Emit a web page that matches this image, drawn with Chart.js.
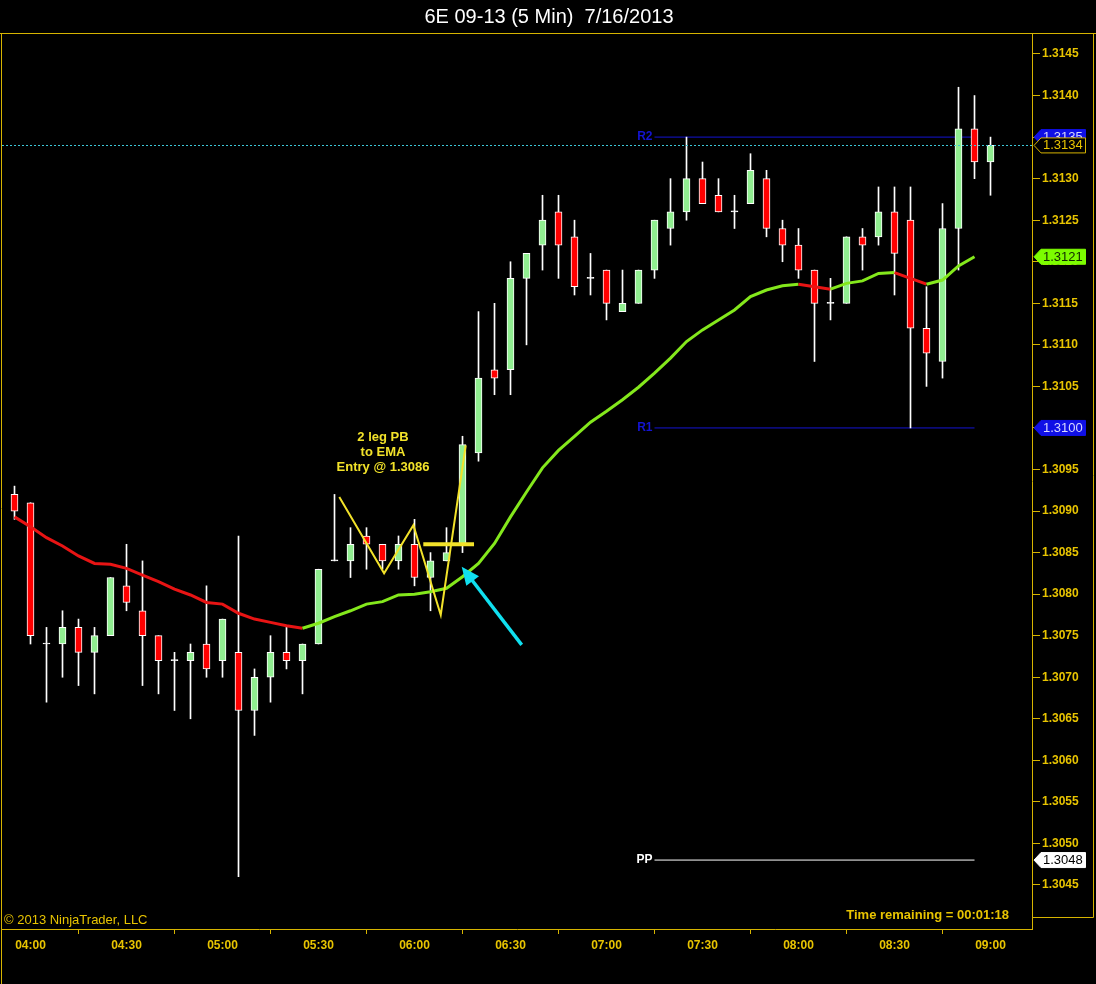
<!DOCTYPE html>
<html>
<head>
<meta charset="utf-8">
<title>6E 09-13 (5 Min) 7/16/2013</title>
<script src="https://cdn.jsdelivr.net/npm/chart.js@4.4.0/dist/chart.umd.min.js"></script>
<style>
  html, body { margin: 0; padding: 0; background: #000; }
  #wrap { width: 1096px; height: 984px; }
  canvas { background: #000; }
</style>
</head>
<body>
<div id="wrap"><canvas id="myChart" width="1096" height="984"></canvas></div>
<script>
// 5 min bars, 7/16/2013
var times = ['03:55','04:00','04:05','04:10','04:15','04:20','04:25','04:30','04:35','04:40',
             '04:45','04:50','04:55','05:00','05:05','05:10','05:15','05:20','05:25','05:30',
             '05:35','05:40','05:45','05:50','05:55','06:00','06:05','06:10','06:15','06:20',
             '06:25','06:30','06:35','06:40','06:45','06:50','06:55','07:00','07:05','07:10',
             '07:15','07:20','07:25','07:30','07:35','07:40','07:45','07:50','07:55','08:00',
             '08:05','08:10','08:15','08:20','08:25','08:30','08:35','08:40','08:45','08:50',
             '08:55','09:00'];

var opens = [1.3092,1.3091,1.3074,1.3074,1.3076,1.3073,1.3075,1.3081,1.3078,1.3075,
             1.3072,1.3072,1.3074,1.3072,1.3073,1.3066,1.3070,1.3073,1.3072,1.3074,
             1.3084,1.3084,1.3087,1.3086,1.3084,1.3086,1.3082,1.3084,1.3086,1.3097,
             1.3107,1.3107,1.3118,1.3122,1.3126,1.3123,1.3118,1.3119,1.3114,1.3115,
             1.3119,1.3124,1.3126,1.3130,1.3128,1.3126,1.3127,1.3130,1.3124,1.3122,
             1.3119,1.3115,1.3115,1.3123,1.3123,1.3126,1.3125,1.3112,1.3108,1.3124,
             1.3136,1.3132];
var highs = [1.3093,1.3091,1.3076,1.3078,1.3077,1.3076,1.3082,1.3086,1.3084,1.3075,
             1.3073,1.3074,1.3081,1.3077,1.3087,1.3071,1.3075,1.3076,1.3074,1.3083,
             1.3092,1.3088,1.3088,1.3086,1.3087,1.3089,1.3085,1.3088,1.3099,1.3114,
             1.3115,1.3120,1.3121,1.3128,1.3128,1.3125,1.3121,1.3119,1.3119,1.3119,
             1.3125,1.3130,1.3135,1.3132,1.3130,1.3128,1.3133,1.3131,1.3125,1.3124,
             1.3119,1.3118,1.3123,1.3124,1.3129,1.3129,1.3129,1.3117,1.3127,1.3141,
             1.3140,1.3135];
var lows = [1.3089,1.3074,1.3067,1.3070,1.3069,1.3068,1.3075,1.3078,1.3069,1.3068,
            1.3066,1.3065,1.3070,1.3070,1.3046,1.3063,1.3067,1.3071,1.3068,1.3074,
            1.3084,1.3082,1.3083,1.3083,1.3083,1.3081,1.3078,1.3084,1.3085,1.3096,
            1.3104,1.3104,1.3110,1.3119,1.3118,1.3116,1.3116,1.3113,1.3114,1.3115,
            1.3118,1.3122,1.3125,1.3127,1.3126,1.3124,1.3127,1.3123,1.3120,1.3118,
            1.3108,1.3113,1.3115,1.3119,1.3122,1.3116,1.3100,1.3105,1.3106,1.3119,
            1.3130,1.3128];
var closes = [1.3090,1.3075,1.3074,1.3076,1.3073,1.3075,1.3082,1.3079,1.3075,1.3072,
              1.3072,1.3073,1.3071,1.3077,1.3066,1.3070,1.3073,1.3072,1.3074,1.3083,
              1.3084,1.3086,1.3086,1.3084,1.3086,1.3082,1.3084,1.3085,1.3098,1.3106,
              1.3106,1.3118,1.3121,1.3125,1.3122,1.3117,1.3118,1.3115,1.3115,1.3119,
              1.3125,1.3126,1.3130,1.3127,1.3126,1.3126,1.3131,1.3124,1.3122,1.3119,
              1.3115,1.3115,1.3123,1.3122,1.3126,1.3121,1.3112,1.3109,1.3124,1.3136,
              1.3132,1.3134];
// EMA (last bar not plotted yet)
var ema = [1.30893,1.30881,1.30868,1.30858,1.30846,1.30837,1.30836,1.30831,1.30823,1.30815,
           1.30806,1.30799,1.30790,1.30788,1.30777,1.30770,1.30766,1.30762,1.30759,1.30765,
           1.30773,1.30780,1.30788,1.30791,1.30799,1.30800,1.30803,1.30807,1.30821,1.30837,
           1.30861,1.30893,1.30923,1.30952,1.30973,1.30990,1.31007,1.31020,1.31034,1.31049,
           1.31066,1.31084,1.31104,1.31118,1.31130,1.31142,1.31158,1.31166,1.31171,1.31173,
           1.31170,1.31167,1.31174,1.31177,1.31186,1.31187,1.31180,1.31173,1.31178,1.31195,
           1.31206];

var xTickLabels = ['04:00','04:30','05:00','05:30','06:00','06:30','07:00','07:30','08:00','08:30','09:00'];
var yTicks = [1.3045,1.3050,1.3055,1.3060,1.3065,1.3070,1.3075,1.3080,1.3085,1.3090,1.3095,
              1.3100,1.3105,1.3110,1.3115,1.3120,1.3125,1.3130,1.3135,1.3140,1.3145];

// pivots
var pivotNames = ['R2','R1','PP'];
var pivotValues = [1.3135,1.3100,1.3048];
var pivotFrom = '07:15', pivotTo = '08:55';

// hand drawn notes (bar index, price)
var legX = [20.3, 23.1, 24.93, 26.64, 28.2];
var legY = [1.30917, 1.30825, 1.30883, 1.30775, 1.30979];
var entryPrice = 1.3086, entryFrom = 25.55, entryTo = 28.72;
var arrowFrom = [31.7, 1.30739], arrowTo = [27.95, 1.30833];
var noteText = ['2 leg PB', 'to EMA', 'Entry @ 1.3086'];
var notePos = [23.03, 1.30988];

var GOLD = '#e8c400', LINE = '#d6b400', FONT = "'Liberation Sans', Arial, sans-serif";
Chart.defaults.font.family = FONT;

var bodyColors = opens.map(function(o, i) {
    return closes[i] > o ? '#90ee90' : (closes[i] < o ? '#ff0000' : '#ffffff');
});
var pFrom = times.indexOf(pivotFrom), pTo = times.indexOf(pivotTo);
var pivotColors = ['#1414d2', '#1414d2', '#ffffff'];

var datasets = [
    {
        type: 'bar', label: 'wick',
        data: times.map(function(t, i) { return {x: i, y: [lows[i], highs[i]]}; }),
        backgroundColor: '#ffffff', barThickness: 1, grouped: false, order: 5
    },
    {
        type: 'bar', label: 'body',
        data: times.map(function(t, i) { return {x: i, y: [opens[i], closes[i]]}; }),
        backgroundColor: bodyColors, borderColor: '#ffffff', borderWidth: 1,
        borderSkipped: false, barThickness: 7, minBarLength: 1, grouped: false, order: 4
    },
    {
        type: 'line', label: 'EMA',
        data: ema.map(function(v, i) { return {x: i, y: v}; }),
        borderWidth: 3, pointRadius: 0, tension: 0, order: 2,
        borderColor: '#84e81c',
        segment: {
            borderColor: function(c) { return c.p1.parsed.y < c.p0.parsed.y ? '#e81414' : '#84e81c'; }
        }
    },
    {
        type: 'line', label: 'leg',
        data: legX.map(function(v, i) { return {x: v, y: legY[i]}; }),
        borderColor: '#f2e22a', borderWidth: 2, pointRadius: 0, order: 1
    },
    {
        type: 'line', label: 'entry',
        data: [{x: entryFrom, y: entryPrice}, {x: entryTo, y: entryPrice}],
        borderColor: '#f2e22a', borderWidth: 4, pointRadius: 0, order: 1
    }
];
pivotValues.forEach(function(v, k) {
    datasets.push({
        type: 'line', label: pivotNames[k],
        data: [{x: pFrom, y: v}, {x: pTo, y: v}],
        borderColor: pivotColors[k], borderWidth: 1, pointRadius: 0, order: 6
    });
});

function marker(c, x0, py, text, bg, border, fg) {
    c.beginPath();
    c.moveTo(x0 + 2, py);
    c.lineTo(x0 + 9, py - 7.5);
    c.lineTo(x0 + 53.5, py - 7.5);
    c.lineTo(x0 + 53.5, py + 7.5);
    c.lineTo(x0 + 9, py + 7.5);
    c.closePath();
    c.fillStyle = bg; c.fill();
    c.strokeStyle = border; c.lineWidth = 1; c.stroke();
    c.fillStyle = fg;
    c.font = '13px ' + FONT;
    c.textAlign = 'left'; c.textBaseline = 'middle';
    c.fillText(text, x0 + 11, py + 0.5);
}

var overlay = {
    id: 'overlay',
    afterDraw: function(chart) {
        var c = chart.ctx, xs = chart.scales.x, ys = chart.scales.y, a = chart.chartArea;
        c.save();
        // frame
        c.strokeStyle = LINE; c.lineWidth = 1;
        c.beginPath();
        c.moveTo(0, a.top + 0.5); c.lineTo(chart.width, a.top + 0.5);
        c.moveTo(1.5, a.top); c.lineTo(1.5, chart.height);
        c.moveTo(chart.width - 2.5, a.top); c.lineTo(chart.width - 2.5, a.bottom - 11.5);
        c.lineTo(a.right, a.bottom - 11.5);
        c.stroke();

        // last price dotted line
        var last = closes[closes.length - 1];
        var ly = Math.round(ys.getPixelForValue(last)) + 0.5;
        c.strokeStyle = '#3cc8d8'; c.setLineDash([2, 2]);
        c.beginPath(); c.moveTo(a.left, ly); c.lineTo(a.right, ly); c.stroke();
        c.setLineDash([]);

        // pivot labels
        c.font = 'bold 12px ' + FONT; c.textAlign = 'right'; c.textBaseline = 'middle';
        pivotValues.forEach(function(v, k) {
            c.fillStyle = pivotColors[k];
            c.fillText(pivotNames[k], xs.getPixelForValue(pFrom) - 2, ys.getPixelForValue(v));
        });

        // note text
        c.font = 'bold 13px ' + FONT;
        c.fillStyle = '#f2e22a'; c.textAlign = 'center';
        var nx = xs.getPixelForValue(notePos[0]), ny = ys.getPixelForValue(notePos[1]);
        noteText.forEach(function(t, k) { c.fillText(t, nx, ny + k * 15); });

        // arrow
        var ax = xs.getPixelForValue(arrowFrom[0]), ay = ys.getPixelForValue(arrowFrom[1]);
        var bx = xs.getPixelForValue(arrowTo[0]), by = ys.getPixelForValue(arrowTo[1]);
        var ang = Math.atan2(by - ay, bx - ax);
        c.strokeStyle = '#10e0f0'; c.fillStyle = '#10e0f0'; c.lineWidth = 3.5;
        c.beginPath();
        c.moveTo(ax, ay);
        c.lineTo(bx - 12 * Math.cos(ang), by - 12 * Math.sin(ang));
        c.stroke();
        c.beginPath();
        c.moveTo(bx, by);
        c.lineTo(bx - 18 * Math.cos(ang) + 8 * Math.sin(ang), by - 18 * Math.sin(ang) - 8 * Math.cos(ang));
        c.lineTo(bx - 18 * Math.cos(ang) - 8 * Math.sin(ang), by - 18 * Math.sin(ang) + 8 * Math.cos(ang));
        c.closePath(); c.fill();

        // footer texts
        c.font = '13px ' + FONT; c.fillStyle = GOLD; c.textAlign = 'left';
        c.fillText('\u00a9 2013 NinjaTrader, LLC', 4, a.bottom - 9);
        c.font = 'bold 13px ' + FONT; c.textAlign = 'right';
        c.fillText('Time remaining = 00:01:18', a.right - 23, a.bottom - 14);

        // price markers on the axis
        var x0 = ys.left;
        marker(c, x0, ys.getPixelForValue(pivotValues[0]), pivotValues[0].toFixed(4), '#1010e6', '#1010e6', '#d8d8ff');
        marker(c, x0, ys.getPixelForValue(last), last.toFixed(4), '#000000', LINE, GOLD);
        var le = ema[ema.length - 1];
        marker(c, x0, ys.getPixelForValue(le), le.toFixed(4), '#7cfc00', '#7cfc00', '#102800');
        marker(c, x0, ys.getPixelForValue(pivotValues[1]), pivotValues[1].toFixed(4), '#1010e6', '#1010e6', '#d8d8ff');
        marker(c, x0, ys.getPixelForValue(pivotValues[2]), pivotValues[2].toFixed(4), '#ffffff', '#ffffff', '#000000');
        c.restore();
    }
};

var ctx = document.getElementById('myChart');
var myChart = new Chart(ctx, {
    type: 'bar',
    data: { datasets: datasets },
    plugins: [overlay],
    options: {
        responsive: false,
        animation: false,
        devicePixelRatio: 1,
        layout: { padding: { left: 2, right: 0, top: 0, bottom: 0 } },
        plugins: {
            legend: { display: false },
            tooltip: { enabled: false },
            title: {
                display: true,
                text: '6E 09-13 (5 Min)  7/16/2013',
                color: '#ffffff',
                font: { size: 20, weight: 'normal', lineHeight: 1.2 },
                padding: { top: 5, bottom: 4 }
            }
        },
        scales: {
            x: {
                type: 'linear', position: 'bottom', offset: false,
                min: -0.78125, max: 63.59375, bounds: 'data',
                afterBuildTicks: function(s) {
                    s.ticks = xTickLabels.map(function(l) { return {value: times.indexOf(l)}; });
                },
                afterFit: function(s) { s.height = 55; },
                grid: { drawOnChartArea: false, drawTicks: true, tickLength: 5, color: LINE },
                border: { display: true, color: LINE, width: 1 },
                ticks: {
                    autoSkip: false, maxRotation: 0, padding: 4, color: GOLD,
                    font: { size: 12, weight: 'bold' },
                    callback: function(v) { return times[v]; }
                }
            },
            y: {
                type: 'linear', position: 'right', beginAtZero: false, bounds: 'data',
                min: 1.3039705, max: 1.3147527,
                afterBuildTicks: function(s) {
                    s.ticks = yTicks.map(function(v) { return {value: v}; });
                },
                afterFit: function(s) { s.width = 64; },
                grid: { drawOnChartArea: false, drawTicks: true, tickLength: 8, color: LINE },
                border: { display: true, color: LINE, width: 1 },
                ticks: {
                    padding: 2, color: GOLD,
                    font: { size: 12, weight: 'bold' },
                    callback: function(v) { return v.toFixed(4); }
                }
            }
        }
    }
});
</script>
</body>
</html>
